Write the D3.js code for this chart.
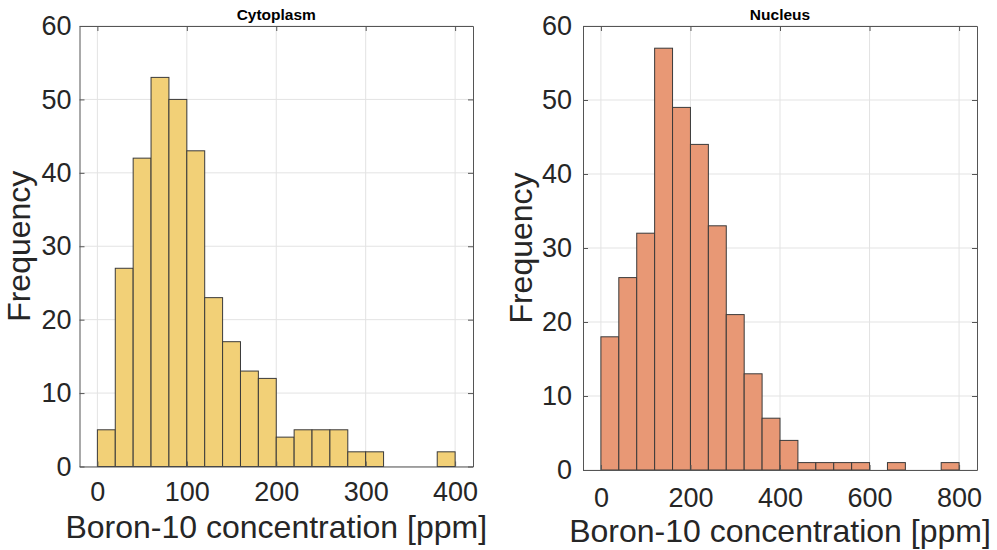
<!DOCTYPE html>
<html>
<head>
<meta charset="utf-8">
<title>Boron-10 concentration histograms</title>
<style>
    body { margin: 0; background: #fff; }
    svg { display: block; }
    .tick text { font-family: "Liberation Sans", Arial, sans-serif; font-size: 27px; fill: #262626; }
    .axis path, .axis line { stroke: #555; }
    .grid line { stroke: #e3e3e3; }
    .lbl { font-family: "Liberation Sans", Arial, sans-serif; font-size: 32px; fill: #262626; }
    .ttl { font-family: "Liberation Sans", Arial, sans-serif; font-size: 15.5px; font-weight: bold; fill: #000; }
</style>
</head>
<body>
<script src="https://cdn.jsdelivr.net/npm/d3@7/dist/d3.min.js"></script>
<script>
// histogram bins (left edge) and counts
var cytoBinStart = [0, 20, 40, 60, 80, 100, 120, 140, 160, 180, 200, 220, 240, 260, 280, 300, 320, 340, 360, 380];
var cytoCounts   = [5, 27, 42, 53, 50, 43, 23, 17, 13, 12, 4, 5, 5, 5, 2, 2, 0, 0, 0, 2];
var cytoBinWidth = 20;
var cytoXTicks = [0, 100, 200, 300, 400];

var nucBinStart = [0, 40, 80, 120, 160, 200, 240, 280, 320, 360, 400, 440, 480, 520, 560, 600, 640, 680, 720, 760];
var nucCounts   = [18, 26, 32, 57, 49, 44, 33, 21, 13, 7, 4, 1, 1, 1, 1, 0, 1, 0, 0, 1];
var nucBinWidth = 40;
var nucXTicks = [0, 200, 400, 600, 800];

var yTicks = [0, 10, 20, 30, 40, 50, 60];

var svg = d3.select("body").append("svg")
    .attr("width", 997)
    .attr("height", 550);

function drawPanel(p) {
    var x = d3.scaleLinear().domain(p.xDomain).range([p.left, p.right]);
    var y = d3.scaleLinear().domain([0, 60]).range([p.bottom, p.top]);

    var g = svg.append("g");

    // grid
    var grid = g.append("g").attr("class", "grid");
    grid.selectAll(".gx").data(p.xTicks).enter().append("line")
        .attr("x1", function (d) { return x(d); })
        .attr("x2", function (d) { return x(d); })
        .attr("y1", p.top).attr("y2", p.bottom);
    grid.selectAll(".gy").data(yTicks).enter().append("line")
        .attr("y1", function (d) { return y(d); })
        .attr("y2", function (d) { return y(d); })
        .attr("x1", p.left).attr("x2", p.right);

    // bars
    var bins = p.starts.map(function (s, i) { return {x0: s, x1: s + p.width, n: p.counts[i]}; })
        .filter(function (d) { return d.n > 0; });
    g.selectAll("rect.bar").data(bins).enter().append("rect")
        .attr("class", "bar")
        .attr("x", function (d) { return x(d.x0); })
        .attr("width", function (d) { return x(d.x1) - x(d.x0); })
        .attr("y", function (d) { return y(d.n); })
        .attr("height", function (d) { return y(0) - y(d.n); })
        .attr("fill", p.fill)
        .attr("stroke", "#3a3a3a")
        .attr("stroke-width", 1);

    // axes (ticks point inward, box on all four sides)
    g.append("g").attr("class", "axis")
        .attr("transform", "translate(0," + p.bottom + ")")
        .call(d3.axisBottom(x).tickValues(p.xTicks).tickSizeInner(-5).tickSizeOuter(0).tickPadding(p.xPad));
    g.append("g").attr("class", "axis")
        .attr("transform", "translate(0," + p.top + ")")
        .call(d3.axisTop(x).tickValues(p.xTicks).tickSizeInner(-5).tickSizeOuter(0).tickFormat(""));
    g.append("g").attr("class", "axis")
        .attr("transform", "translate(" + p.left + ",0)")
        .call(d3.axisLeft(y).tickValues(yTicks).tickSizeInner(-5).tickSizeOuter(0).tickPadding(p.yPad));
    g.append("g").attr("class", "axis")
        .attr("transform", "translate(" + p.right + ",0)")
        .call(d3.axisRight(y).tickValues(yTicks).tickSizeInner(-5).tickSizeOuter(0).tickFormat(""));

    // labels
    g.append("text").attr("class", "ttl")
        .attr("x", (p.left + p.right) / 2).attr("y", 20)
        .attr("text-anchor", "middle")
        .text(p.title);
    g.append("text").attr("class", "lbl")
        .attr("x", (p.left + p.right) / 2).attr("y", p.xLabelY)
        .attr("text-anchor", "middle")
        .text("Boron-10 concentration [ppm]");
    g.append("text").attr("class", "lbl")
        .attr("transform", "translate(" + p.yLabelX + "," + (p.top + p.bottom) / 2 + ") rotate(-90)")
        .attr("text-anchor", "middle")
        .text("Frequency");
}

drawPanel({
    title: "Cytoplasm", starts: cytoBinStart, counts: cytoCounts, width: cytoBinWidth,
    xTicks: cytoXTicks, xDomain: [-20, 420],
    left: 79.5, right: 473, top: 26, bottom: 466.5,
    xPad: 15.5, yPad: 8, xLabelY: 538, yLabelX: 30,
    fill: "#f2d077"
});

drawPanel({
    title: "Nucleus", starts: nucBinStart, counts: nucCounts, width: nucBinWidth,
    xTicks: nucXTicks, xDomain: [-40, 840],
    left: 583, right: 977, top: 26, bottom: 470,
    xPad: 17.5, yPad: 11, xLabelY: 542, yLabelX: 532,
    fill: "#e89875"
});
</script>
</body>
</html>
